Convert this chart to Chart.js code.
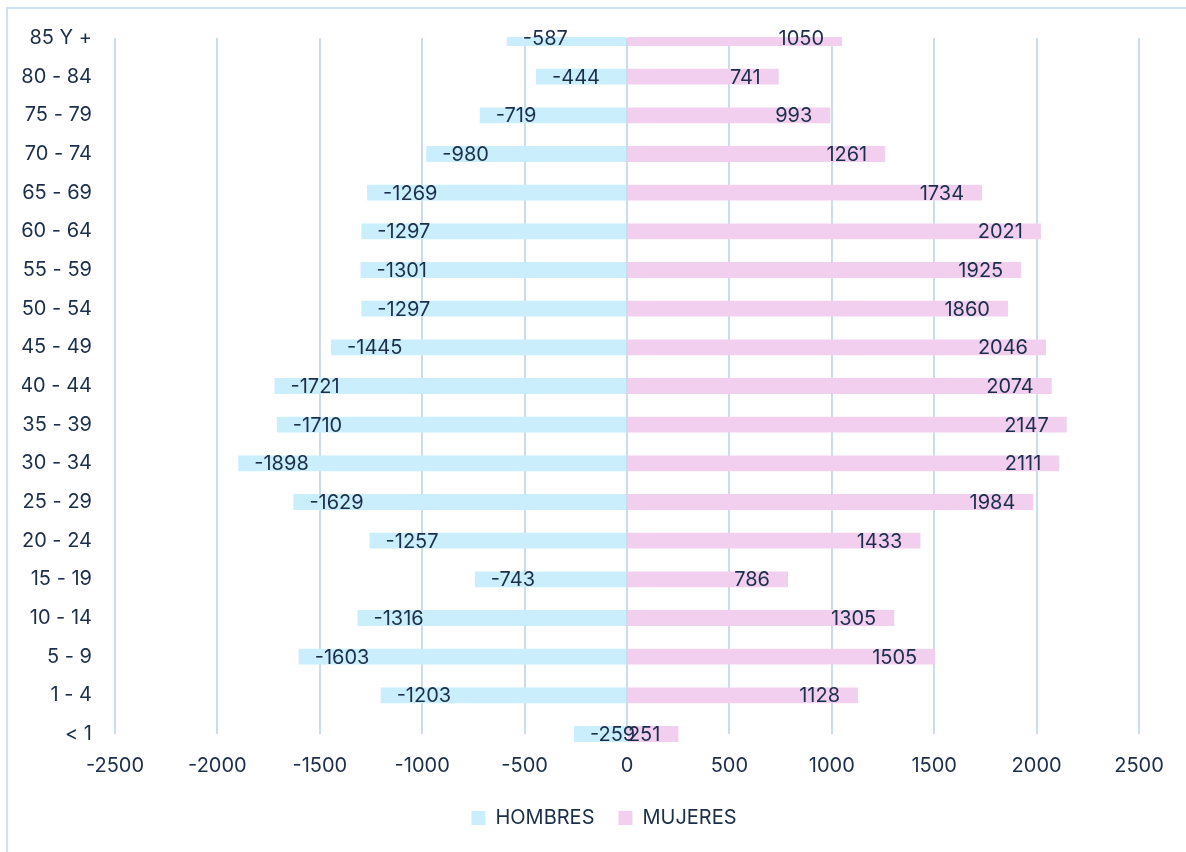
<!DOCTYPE html>
<html>
<head>
<meta charset="utf-8">
<script src="https://cdn.jsdelivr.net/npm/chart.js@4"></script>
<style>
   body { margin: 0; background: #ffffff; overflow: hidden; }
   #frame { position: absolute; left: 6px; top: 7px; width: 1300px; height: 1000px; border: 2px solid #cfe0f3; pointer-events: none; }
   #graph { position: absolute; left: 0; top: 0; }
</style>
</head>
<body>
<div id="frame"></div>
<canvas id="graph" width="1186" height="852"></canvas>
<script>
const ageGroups = ["85 Y +", "80 - 84", "75 - 79", "70 - 74", "65 - 69", "60 - 64", "55 - 59", "50 - 54", "45 - 49",
   "40 - 44", "35 - 39", "30 - 34", "25 - 29", "20 - 24", "15 - 19", "10 - 14", "5 - 9", "1 - 4", "< 1"];
const hombres = [-587, -444, -719, -980, -1269, -1297, -1301, -1297, -1445,
   -1721, -1710, -1898, -1629, -1257, -743, -1316, -1603, -1203, -259];
const mujeres = [1050, 741, 993, 1261, 1734, 2021, 1925, 1860, 2046,
   2074, 2147, 2111, 1984, 1433, 786, 1305, 1505, 1128, 251];
const xTicks = [-2500, -2000, -1500, -1000, -500, 0, 500, 1000, 1500, 2000, 2500];

const textColor = "#1b2e4b";
const fontFamily = "Inter, 'Noto Sans', sans-serif";
Chart.defaults.font.family = fontFamily;
Chart.defaults.color = textColor;

// value labels at the inner end of each bar, drawn on top of the grid lines
const barLabels =
{
   id: "barLabels",
   afterLayout(chart)
   {
      // pull the legend a little closer to the axis labels
      chart.legend.top -= 14;
      chart.legend.bottom -= 14;
   },
   afterDraw(chart)
   {
      const ctx = chart.ctx;
      ctx.save();
      ctx.font = "20px " + fontFamily;
      ctx.fillStyle = textColor;
      ctx.textBaseline = "middle";
      chart.data.datasets.forEach((ds, i) =>
      {
         chart.getDatasetMeta(i).data.forEach((bar, j) =>
         {
            const v = ds.data[j];
            if (v < 0)
            {
               ctx.textAlign = "left";
               ctx.fillText(String(v), bar.x + 16, bar.y + 1);
            }
            else
            {
               ctx.textAlign = "right";
               ctx.fillText(String(v), bar.x - 18, bar.y + 1);
            }
         });
      });
      ctx.restore();
   }
};

new Chart(document.getElementById("graph").getContext("2d"),
{
   type: "bar",
   data:
   {
      labels: ageGroups,
      datasets:
      [
         {
            label: "HOMBRES",
            data: hombres,
            backgroundColor: "#caeefb",
            barPercentage: 0.41,
            categoryPercentage: 1,
            clip: { left: 5, top: 1, right: 5, bottom: 12 }
         },
         {
            label: "MUJERES",
            data: mujeres,
            backgroundColor: "#f2cfee",
            barPercentage: 0.41,
            categoryPercentage: 1,
            clip: { left: 5, top: 1, right: 5, bottom: 12 }
         }
      ]
   },
   options:
   {
      indexAxis: "y",
      animation: false,
      responsive: false,
      layout:
      {
         padding: { top: 38, left: 22, right: 0, bottom: 0 }
      },
      scales:
      {
         x:
         {
            stacked: true,
            min: -2500,
            max: 2500,
            z: 1,
            afterBuildTicks: (scale) => { scale.ticks = xTicks.map(v => ({ value: v })); },
            grid:
            {
               color: "#c9dcf1",
               lineWidth: 2,
               drawTicks: false
            },
            border: { display: false },
            ticks:
            {
               padding: 20,
               maxRotation: 0,
               autoSkip: false,
               font: { size: 20 },
               color: textColor,
               callback: (value) => String(value)
            }
         },
         y:
         {
            stacked: true,
            offset: false,
            afterFit: (scale) => { scale.width = 93; },
            grid: { display: false, drawTicks: false },
            border: { display: false },
            ticks:
            {
               padding: 23,
               autoSkip: false,
               font: { size: 20 },
               color: textColor
            }
         },
         yRight:
         {
            type: "linear",
            position: "right",
            afterFit: (scale) => { scale.width = 47; },
            grid: { display: false, drawTicks: false },
            border: { display: false },
            ticks: { display: false }
         }
      },
      plugins:
      {
         legend:
         {
            position: "bottom",
            labels:
            {
               boxWidth: 14,
               boxHeight: 14,
               padding: 24,
               font: { size: 20 },
               color: textColor
            }
         },
         tooltip: { enabled: false }
      }
   },
   plugins: [barLabels]
});
</script>
</body>
</html>
